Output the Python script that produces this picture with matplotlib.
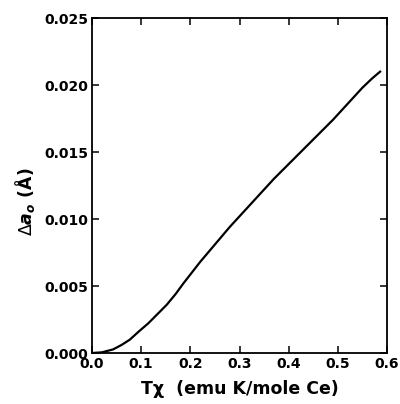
import matplotlib
matplotlib.use("Agg")
import matplotlib.pyplot as plt

tchi = [0.0, 0.02, 0.043, 0.06, 0.077, 0.095, 0.114, 0.133, 0.152, 0.17, 0.186,
        0.203, 0.22, 0.25, 0.28, 0.31, 0.34, 0.37, 0.40, 0.43, 0.46, 0.49,
        0.52, 0.55, 0.57, 0.586]
delta_a = [0.0, 0.00005, 0.00027, 0.0006, 0.0010, 0.0016, 0.0022, 0.0029, 0.0036,
           0.0044, 0.0052, 0.0060, 0.0068, 0.0081, 0.0094, 0.0106, 0.0118, 0.0130,
           0.0141, 0.0152, 0.0163, 0.0174, 0.0186, 0.0198, 0.0205, 0.0210]

xticks = [0.0, 0.1, 0.2, 0.3, 0.4, 0.5, 0.6]
yticks = [0.000, 0.005, 0.010, 0.015, 0.020, 0.025]

plt.rcParams['font.family'] = ['DejaVu Sans']
plt.rcParams['mathtext.fontset'] = 'dejavusans'

fig = plt.figure(figsize=(4.0, 4.04), dpi=100)
ax = fig.add_axes([0.23, 0.1262, 0.7375, 0.8292])
ax.plot(tchi, delta_a, color='black', lw=1.6, solid_joinstyle='round')
ax.set_xlim(0, 0.6)
ax.set_ylim(0, 0.025)
ax.set_xticks(xticks)
ax.set_yticks(yticks)
ax.set_xticklabels([f"{v:.1f}" for v in xticks], fontsize=10, fontweight='bold')
ax.set_yticklabels([f"{v:.3f}" for v in yticks], fontsize=10, fontweight='bold')
ax.tick_params(direction='in', length=5, width=1.1, top=True, right=True, pad=2.5)
ax.tick_params(axis='x', pad=3)
for s in ax.spines.values():
    s.set_linewidth(1.3)

ax.set_xlabel("Tχ  (emu K/mole Ce)", fontsize=12.5, fontweight='bold', labelpad=6)
ax.set_ylabel(r"$\Delta\mathbfit{a}_{\mathbfit{o}}$ (Å)", fontsize=12.5, fontweight='bold')
ax.yaxis.set_label_coords(-0.185, 0.45)

fig.savefig("out.png", dpi=100)
